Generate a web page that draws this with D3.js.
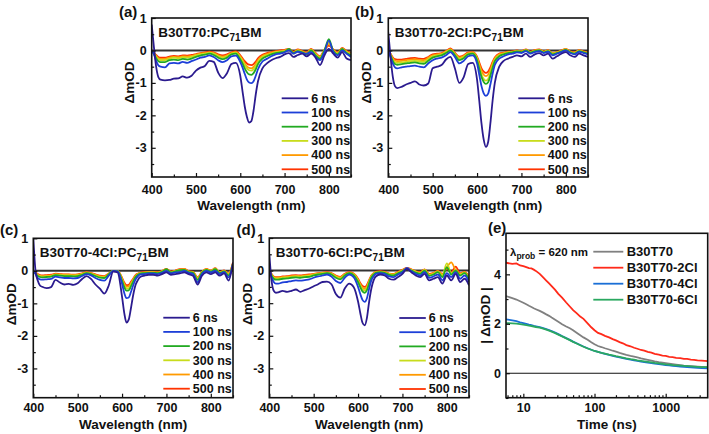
<!DOCTYPE html>
<html><head><meta charset="utf-8">
<script src="https://cdn.jsdelivr.net/npm/d3@7"></script>
<style>
body{margin:0;background:#fff}
text{font-family:"Liberation Sans",Arial,sans-serif;font-weight:bold;fill:#111}
</style>
</head><body>
<svg id="chart" width="709" height="434"></svg>
<script>
// ---------- DATA ----------
const wavelengths = [400,405,410,415,420,430,440,450,460,470,480,490,500,510,520,530,540,550,560,570,580,590,600,605,610,615,620,625,630,635,640,650,660,670,680,690,700,710,720,730,740,750,760,770,780,790,800,810,820,830,840,850];
const delayLabels = ["6 ns","100 ns","200 ns","300 ns","400 ns","500 ns"];
const delayColors = ["#2b1b8f","#1d3fd8","#22aa22","#c8dc1c","#ff9a00","#ff3300"];

const a6   = [0.80,0.10,-0.50,-0.82,-0.90,-0.92,-0.91,-0.87,-0.86,-0.80,-0.84,-0.78,-0.62,-0.53,-0.48,-0.32,-0.35,-0.68,-0.85,-0.70,-0.42,-0.38,-0.78,-1.25,-1.72,-2.05,-2.22,-2.18,-1.85,-1.35,-0.95,-0.55,-0.40,-0.30,-0.24,-0.20,-0.12,-0.08,-0.20,-0.14,-0.10,-0.18,-0.10,-0.22,-0.45,-0.15,0.05,-0.10,-0.22,-0.05,-0.25,-0.30];
const a100 = [0.00,-0.12,-0.32,-0.46,-0.50,-0.52,-0.40,-0.38,-0.40,-0.35,-0.38,-0.33,-0.28,-0.22,-0.20,-0.15,-0.20,-0.30,-0.36,-0.30,-0.18,-0.16,-0.36,-0.52,-0.72,-0.90,-0.99,-1.01,-0.95,-0.78,-0.58,-0.34,-0.26,-0.18,-0.12,-0.10,-0.06,0.00,-0.10,-0.04,-0.08,-0.10,-0.05,-0.20,-0.30,-0.05,0.30,-0.05,-0.15,0.00,-0.10,-0.20];
const a200 = [0.00,-0.10,-0.24,-0.33,-0.36,-0.36,-0.30,-0.28,-0.30,-0.26,-0.28,-0.25,-0.20,-0.16,-0.13,-0.10,-0.14,-0.22,-0.27,-0.22,-0.12,-0.10,-0.28,-0.40,-0.55,-0.67,-0.74,-0.75,-0.70,-0.58,-0.42,-0.25,-0.18,-0.12,-0.08,-0.06,-0.04,0.05,-0.08,-0.02,-0.06,-0.12,0.00,-0.15,-0.25,0.00,0.35,-0.02,-0.12,0.05,-0.08,-0.15];
const a300 = [0.00,-0.08,-0.20,-0.27,-0.30,-0.30,-0.25,-0.22,-0.24,-0.21,-0.22,-0.20,-0.15,-0.12,-0.10,-0.07,-0.10,-0.18,-0.22,-0.18,-0.10,-0.07,-0.22,-0.33,-0.45,-0.55,-0.61,-0.62,-0.58,-0.48,-0.35,-0.20,-0.14,-0.10,-0.05,-0.04,-0.02,0.03,-0.10,0.00,-0.05,-0.10,0.02,-0.12,-0.22,0.02,0.25,0.00,-0.10,0.05,-0.05,-0.12];
const a400 = [0.00,-0.07,-0.17,-0.24,-0.26,-0.26,-0.22,-0.20,-0.21,-0.18,-0.19,-0.17,-0.13,-0.10,-0.08,-0.06,-0.08,-0.15,-0.19,-0.15,-0.08,-0.05,-0.19,-0.29,-0.40,-0.49,-0.54,-0.55,-0.51,-0.42,-0.30,-0.17,-0.11,-0.07,-0.04,-0.02,0.00,0.04,-0.06,0.02,-0.03,-0.08,0.03,-0.10,-0.20,0.00,0.20,0.02,-0.08,0.06,-0.04,-0.10];
const a500 = [0.00,-0.06,-0.14,-0.20,-0.22,-0.22,-0.19,-0.17,-0.18,-0.15,-0.16,-0.14,-0.11,-0.08,-0.06,-0.04,-0.06,-0.12,-0.15,-0.12,-0.06,-0.03,-0.15,-0.24,-0.33,-0.40,-0.44,-0.45,-0.42,-0.34,-0.24,-0.13,-0.08,-0.05,-0.02,0.00,0.02,0.05,-0.04,0.03,-0.02,-0.06,0.05,-0.08,-0.18,0.02,0.15,0.03,-0.06,0.08,-0.02,-0.08];

const b6   = [0.55,-0.20,-0.80,-1.10,-1.16,-1.12,-1.05,-1.00,-0.95,-1.05,-1.08,-1.02,-0.55,-0.50,-0.45,-0.28,-0.20,-0.55,-1.00,-0.82,-0.42,-0.38,-0.90,-1.55,-2.25,-2.75,-2.97,-2.82,-2.25,-1.55,-1.00,-0.50,-0.32,-0.25,-0.20,-0.15,-0.18,-0.10,-0.20,-0.12,-0.08,-0.15,-0.10,-0.25,-0.18,-0.10,-0.05,-0.15,-0.20,-0.10,-0.15,-0.20];
const b100 = [0.00,-0.20,-0.40,-0.52,-0.55,-0.52,-0.50,-0.48,-0.47,-0.50,-0.52,-0.40,-0.30,-0.25,-0.22,-0.15,-0.05,-0.20,-0.40,-0.32,-0.18,-0.15,-0.40,-0.75,-1.10,-1.32,-1.40,-1.33,-1.05,-0.72,-0.45,-0.25,-0.18,-0.12,-0.10,-0.06,-0.08,-0.02,-0.10,-0.05,-0.02,-0.08,-0.04,-0.15,-0.10,-0.05,0.00,-0.08,-0.12,-0.04,-0.08,-0.12];
const b200 = [0.00,-0.15,-0.32,-0.42,-0.44,-0.42,-0.40,-0.38,-0.37,-0.40,-0.41,-0.32,-0.22,-0.18,-0.15,-0.08,0.00,-0.14,-0.30,-0.24,-0.12,-0.10,-0.30,-0.56,-0.82,-0.97,-1.03,-0.98,-0.78,-0.53,-0.33,-0.18,-0.12,-0.08,-0.06,-0.03,-0.05,0.00,-0.07,-0.02,0.00,-0.06,-0.02,-0.12,-0.08,-0.03,0.02,-0.06,-0.10,-0.02,-0.06,-0.10];
const b300 = [0.00,-0.13,-0.28,-0.37,-0.38,-0.37,-0.35,-0.33,-0.32,-0.34,-0.35,-0.27,-0.18,-0.15,-0.12,-0.05,0.02,-0.11,-0.26,-0.20,-0.10,-0.08,-0.26,-0.50,-0.74,-0.88,-0.93,-0.88,-0.70,-0.47,-0.29,-0.15,-0.10,-0.06,-0.05,-0.02,-0.04,0.01,-0.06,-0.01,0.01,-0.05,-0.01,-0.10,-0.07,-0.02,0.03,-0.05,-0.08,-0.01,-0.05,-0.09];
const b400 = [0.00,-0.11,-0.24,-0.31,-0.33,-0.32,-0.30,-0.28,-0.27,-0.29,-0.30,-0.23,-0.15,-0.12,-0.10,-0.03,0.04,-0.09,-0.22,-0.17,-0.08,-0.06,-0.22,-0.43,-0.63,-0.75,-0.79,-0.75,-0.60,-0.40,-0.25,-0.12,-0.08,-0.05,-0.04,-0.01,-0.03,0.02,-0.05,0.00,0.02,-0.04,0.00,-0.09,-0.06,-0.01,0.04,-0.04,-0.07,0.00,-0.04,-0.08];
const b500 = [0.00,-0.10,-0.21,-0.27,-0.28,-0.28,-0.26,-0.24,-0.23,-0.25,-0.26,-0.20,-0.12,-0.10,-0.08,-0.02,0.06,-0.07,-0.19,-0.15,-0.06,-0.05,-0.19,-0.37,-0.55,-0.65,-0.69,-0.65,-0.52,-0.35,-0.22,-0.10,-0.07,-0.04,-0.03,0.00,-0.02,0.03,-0.04,0.01,0.03,-0.03,0.01,-0.08,-0.05,0.00,0.05,-0.03,-0.06,0.01,-0.03,-0.07];

const c6   = [1.00,0.00,-0.30,-0.45,-0.49,-0.53,-0.50,-0.28,-0.36,-0.42,-0.40,-0.43,-0.38,-0.25,-0.16,-0.25,-0.42,-0.55,-0.70,-0.45,-0.02,-0.05,-0.80,-1.30,-1.59,-1.50,-1.15,-0.75,-0.45,-0.30,-0.20,-0.15,-0.12,-0.12,-0.15,-0.10,-0.05,-0.12,-0.10,-0.08,-0.05,-0.10,-0.15,-0.42,-0.15,-0.05,-0.10,-0.05,-0.15,-0.08,-0.30,0.25];
const c100 = [0.00,-0.10,-0.22,-0.26,-0.27,-0.26,-0.25,-0.18,-0.20,-0.22,-0.22,-0.23,-0.22,-0.16,-0.10,-0.14,-0.22,-0.28,-0.30,-0.15,0.00,-0.02,-0.40,-0.68,-0.84,-0.82,-0.65,-0.45,-0.28,-0.18,-0.12,-0.10,-0.08,-0.08,-0.10,-0.06,0.00,-0.08,-0.05,-0.04,0.00,-0.06,-0.10,-0.35,-0.10,0.00,-0.05,0.00,-0.10,-0.04,-0.20,0.20];
const c200 = [0.00,-0.08,-0.16,-0.19,-0.20,-0.19,-0.18,-0.13,-0.15,-0.16,-0.16,-0.17,-0.16,-0.12,-0.07,-0.10,-0.16,-0.21,-0.22,-0.11,0.00,-0.01,-0.30,-0.50,-0.61,-0.60,-0.48,-0.33,-0.20,-0.13,-0.09,-0.07,-0.06,-0.06,-0.07,-0.03,0.05,-0.05,-0.02,0.02,0.03,-0.04,-0.06,-0.28,-0.06,0.03,-0.02,0.05,-0.07,-0.02,-0.14,0.22];
const c300 = [0.00,-0.07,-0.14,-0.17,-0.18,-0.17,-0.16,-0.12,-0.13,-0.14,-0.14,-0.15,-0.14,-0.10,-0.06,-0.09,-0.14,-0.19,-0.20,-0.10,0.00,-0.01,-0.27,-0.45,-0.55,-0.54,-0.43,-0.30,-0.18,-0.12,-0.08,-0.06,-0.05,-0.05,-0.06,-0.02,0.04,-0.04,-0.01,0.03,0.04,-0.03,-0.05,-0.25,-0.05,0.04,-0.01,0.06,-0.06,-0.01,-0.12,0.22];
const c400 = [0.00,-0.06,-0.12,-0.15,-0.16,-0.15,-0.14,-0.10,-0.11,-0.12,-0.12,-0.13,-0.12,-0.09,-0.05,-0.08,-0.12,-0.17,-0.18,-0.09,0.00,0.00,-0.24,-0.40,-0.49,-0.48,-0.38,-0.27,-0.16,-0.10,-0.07,-0.05,-0.04,-0.04,-0.05,-0.01,0.05,-0.03,0.00,0.04,0.05,-0.02,-0.04,-0.22,-0.04,0.05,0.00,0.07,-0.05,0.00,-0.10,0.24];
const c500 = [0.00,-0.05,-0.10,-0.13,-0.14,-0.13,-0.12,-0.09,-0.10,-0.11,-0.11,-0.12,-0.11,-0.08,-0.04,-0.07,-0.11,-0.15,-0.16,-0.08,0.00,0.00,-0.21,-0.36,-0.44,-0.43,-0.34,-0.24,-0.14,-0.09,-0.06,-0.04,-0.03,-0.03,-0.04,0.00,0.06,-0.02,0.01,0.05,0.06,-0.01,-0.03,-0.20,-0.03,0.06,0.01,0.08,-0.04,0.01,-0.08,0.26];

const d6   = [0.50,-0.30,-0.62,-0.68,-0.67,-0.62,-0.65,-0.62,-0.58,-0.65,-0.60,-0.55,-0.48,-0.42,-0.35,-0.34,-0.42,-0.72,-0.83,-0.55,-0.40,-0.50,-0.95,-1.30,-1.60,-1.68,-1.45,-0.95,-0.55,-0.30,-0.18,-0.12,-0.15,-0.25,-0.28,-0.20,-0.10,0.05,-0.05,-0.15,-0.20,-0.10,-0.30,-0.25,-0.20,-0.40,-0.15,-0.30,-0.10,-0.35,-0.25,-0.45];
const d100 = [0.00,-0.20,-0.35,-0.40,-0.40,-0.36,-0.35,-0.32,-0.30,-0.31,-0.29,-0.27,-0.22,-0.18,-0.15,-0.12,-0.18,-0.32,-0.38,-0.22,-0.12,-0.20,-0.50,-0.72,-0.90,-0.96,-0.85,-0.55,-0.30,-0.18,-0.10,-0.08,-0.10,-0.18,-0.20,-0.12,-0.05,0.08,-0.02,-0.10,-0.15,-0.05,-0.22,-0.18,-0.12,-0.30,-0.08,-0.20,-0.05,-0.25,-0.15,-0.35];
const d200 = [0.00,-0.15,-0.25,-0.28,-0.28,-0.25,-0.24,-0.22,-0.21,-0.22,-0.20,-0.19,-0.15,-0.12,-0.10,-0.08,-0.12,-0.22,-0.27,-0.15,-0.08,-0.14,-0.35,-0.51,-0.64,-0.68,-0.60,-0.39,-0.21,-0.12,-0.07,-0.05,-0.07,-0.13,-0.15,-0.08,-0.02,0.05,0.00,-0.06,-0.10,0.00,-0.16,-0.12,-0.05,-0.20,0.10,-0.12,0.00,-0.15,-0.08,-0.28];
const d300 = [0.00,-0.13,-0.22,-0.25,-0.25,-0.22,-0.21,-0.19,-0.18,-0.19,-0.17,-0.16,-0.13,-0.10,-0.08,-0.07,-0.10,-0.19,-0.24,-0.13,-0.07,-0.12,-0.31,-0.46,-0.57,-0.61,-0.54,-0.35,-0.19,-0.10,-0.06,-0.04,-0.06,-0.11,-0.13,-0.06,0.00,0.06,0.02,-0.04,-0.08,0.02,-0.14,-0.10,-0.03,-0.15,0.22,-0.08,0.02,-0.12,-0.06,-0.25];
const d400 = [0.00,-0.12,-0.20,-0.22,-0.22,-0.20,-0.19,-0.17,-0.16,-0.17,-0.15,-0.14,-0.11,-0.09,-0.07,-0.06,-0.09,-0.17,-0.21,-0.11,-0.06,-0.10,-0.28,-0.42,-0.52,-0.56,-0.49,-0.32,-0.17,-0.09,-0.05,-0.03,-0.05,-0.10,-0.11,-0.05,0.01,0.07,0.03,-0.03,-0.06,0.03,-0.12,-0.08,-0.02,-0.12,0.10,0.25,0.00,-0.10,-0.05,-0.22];
const d500 = [0.00,-0.10,-0.18,-0.20,-0.20,-0.18,-0.17,-0.15,-0.14,-0.15,-0.13,-0.12,-0.10,-0.08,-0.06,-0.05,-0.08,-0.15,-0.19,-0.10,-0.05,-0.09,-0.25,-0.38,-0.47,-0.50,-0.44,-0.29,-0.15,-0.08,-0.04,-0.02,-0.04,-0.09,-0.10,-0.04,0.02,0.08,0.04,-0.02,-0.05,0.04,-0.10,-0.07,-0.01,-0.10,0.05,-0.05,0.12,-0.08,-0.04,-0.18];

const specYTicks = [1,0,-1,-2,-3];
const specXTicks = [400,500,600,700,800];

// panel (e) decay kinetics
const times = [5.7,7,8,9,10,11,12,13,14,15,17,19,21,23,25,28,31,35,40,45,50,56,63,70,80,90,100,112,125,140,160,180,200,225,250,280,320,360,400,450,500,560,630,700,800,900,1000,1120,1250,1400,1600,1800,2000,2250,2500,2800,3200,3900];
const kin0 = [3.12,3.04,2.98,2.91,2.85,2.79,2.73,2.68,2.63,2.59,2.52,2.45,2.38,2.32,2.25,2.16,2.08,1.98,1.89,1.82,1.74,1.64,1.54,1.45,1.35,1.25,1.17,1.10,1.06,1.01,0.96,0.91,0.87,0.82,0.78,0.74,0.70,0.67,0.64,0.60,0.57,0.54,0.51,0.48,0.45,0.43,0.41,0.39,0.37,0.35,0.33,0.31,0.30,0.29,0.28,0.27,0.26,0.25];
const kin2 = [4.47,4.42,4.44,4.36,4.33,4.29,4.25,4.24,4.19,4.14,4.02,3.88,3.75,3.63,3.52,3.37,3.21,3.06,2.86,2.70,2.55,2.43,2.29,2.20,2.02,1.86,1.74,1.63,1.58,1.51,1.45,1.38,1.33,1.26,1.21,1.14,1.09,1.03,0.99,0.94,0.91,0.86,0.83,0.78,0.75,0.71,0.70,0.66,0.65,0.62,0.61,0.58,0.58,0.55,0.54,0.52,0.51,0.49];
const kin4 = [2.18,2.14,2.11,2.06,2.03,2.00,1.97,1.95,1.92,1.90,1.86,1.82,1.78,1.74,1.70,1.64,1.58,1.50,1.42,1.35,1.28,1.21,1.14,1.08,1.01,0.95,0.90,0.86,0.82,0.78,0.74,0.70,0.67,0.64,0.61,0.58,0.55,0.52,0.50,0.47,0.45,0.43,0.41,0.39,0.37,0.35,0.33,0.32,0.30,0.29,0.27,0.26,0.25,0.24,0.23,0.22,0.21,0.20];
const kin6 = [2.03,2.02,2.01,1.99,1.97,1.95,1.93,1.91,1.89,1.87,1.84,1.80,1.76,1.72,1.68,1.62,1.56,1.49,1.41,1.34,1.27,1.20,1.13,1.07,1.00,0.95,0.90,0.86,0.82,0.79,0.75,0.72,0.69,0.66,0.63,0.60,0.57,0.55,0.52,0.50,0.48,0.46,0.44,0.42,0.40,0.38,0.36,0.35,0.33,0.32,0.31,0.30,0.29,0.28,0.27,0.26,0.25,0.25];
const kinLabels = ["B30T70","B30T70-2Cl","B30T70-4Cl","B30T70-6Cl"];
const kinColors = ["#808080","#ff2a1a","#1a6fd6","#2aa860"];
const kinYTicks = [0,2,4];
const kinXTicks = [10,100,1000];

// ---------- DRAW ----------
const svg = d3.select("#chart");
let clipId = 0;

function addTicks(g, x, y, xt, xMinor, yt, yMinor, h, xPad, yPad) {
  const ax = g.append("g").attr("transform", `translate(0,${h})`)
    .call(d3.axisBottom(x).tickValues(xt).tickSizeInner(-4).tickSizeOuter(0).tickPadding(xPad).tickFormat(d3.format("d")));
  const axm = g.append("g").attr("transform", `translate(0,${h})`)
    .call(d3.axisBottom(x).tickValues(xMinor).tickSizeInner(-2.5).tickSizeOuter(0).tickFormat(""));
  const ay = g.append("g")
    .call(d3.axisLeft(y).tickValues(yt).tickSizeInner(-4).tickSizeOuter(0).tickPadding(yPad).tickFormat(d3.format("d")));
  const aym = g.append("g")
    .call(d3.axisLeft(y).tickValues(yMinor).tickSizeInner(-2.5).tickSizeOuter(0).tickFormat(""));
  [ax, axm, ay, aym].forEach(a => {
    a.select(".domain").remove();
    a.selectAll("line").attr("stroke", "#111").attr("stroke-width", 1.2);
    a.selectAll("text").style("font-size", "12.5px").style("font-family", "Liberation Sans, Arial, sans-serif").style("font-weight", "bold").attr("fill", "#111");
  });
  ay.selectAll("text").text(d => d < 0 ? "-" + Math.abs(d) : d);
}

function spectrumPanel(o) {
  const w = o.right - o.left, h = o.bottom - o.top;
  const g = svg.append("g").attr("transform", `translate(${o.left},${o.top})`);
  const x = d3.scaleLinear().domain([400, 850]).range([0, w]);
  const y = d3.scaleLinear().domain([-3.9, 1]).range([h, 0]);
  const id = "clip" + (clipId++);
  g.append("clipPath").attr("id", id).append("rect").attr("width", w).attr("height", h);
  const plot = g.append("g").attr("clip-path", `url(#${id})`);
  plot.append("line").attr("x1", 0).attr("x2", w).attr("y1", y(0)).attr("y2", y(0))
    .attr("stroke", "#333").attr("stroke-width", 2);
  const line = d3.line().x((d, i) => x(wavelengths[i])).y(d => y(d)).curve(d3.curveMonotoneX);
  o.series.slice().reverse().forEach((s, k) => {
    const i = o.series.length - 1 - k;
    plot.append("path").attr("d", line(s)).attr("fill", "none")
      .attr("stroke", delayColors[i]).attr("stroke-width", 1.8).attr("stroke-linejoin", "round");
  });
  addTicks(g, x, y, specXTicks, [450,550,650,750,850], specYTicks, [0.5,-0.5,-1.5,-2.5,-3.5], h, o.xPad, 5);
  g.append("rect").attr("width", w).attr("height", h).attr("fill", "none").attr("stroke", "#111").attr("stroke-width", 1.6);
  // inset title with subscript
  const t = g.append("text").attr("x", 6.5).attr("y", 19).style("font-size", "13.5px");
  t.append("tspan").text(o.name + ":PC");
  t.append("tspan").attr("dy", 4).style("font-size", "10px").text("71");
  t.append("tspan").attr("dy", -4).text("BM");
  // legend
  delayLabels.forEach((lab, i) => {
    const ly = o.legTop + i * 14.2;
    g.append("line").attr("x1", 130).attr("x2", 156.5).attr("y1", ly).attr("y2", ly)
      .attr("stroke", delayColors[i]).attr("stroke-width", 1.8);
    g.append("text").attr("x", 159.5).attr("y", ly).attr("dy", "0.35em").style("font-size", "12.5px").text(lab);
  });
  // axis titles
  g.append("text").attr("transform", `translate(-22,${o.yTitleY}) rotate(-90)`).attr("text-anchor", "middle")
    .attr("dy", "0.35em").style("font-size", "13.5px").text("ΔmOD");
  g.append("text").attr("x", w / 2).attr("y", h + o.xTitleOff).attr("text-anchor", "middle").attr("dy", "0.35em")
    .style("font-size", "13.5px").text("Wavelength (nm)");
  svg.append("text").attr("x", o.labX).attr("y", o.labY).attr("dy", "0.35em").style("font-size", "15px").text(o.lab);
}

spectrumPanel({left:151.7,right:351,top:18,bottom:177,series:[a6,a100,a200,a300,a400,a500],name:"B30T70",lab:"(a)",labX:119,labY:12,legTop:80.3,xPad:8,xTitleOff:28,yTitleY:64.5});
spectrumPanel({left:388.3,right:588,top:18,bottom:177,series:[b6,b100,b200,b300,b400,b500],name:"B30T70-2Cl",lab:"(b)",labX:355,labY:12,legTop:80.3,xPad:8,xTitleOff:28,yTitleY:64.5});
spectrumPanel({left:33.3,right:233,top:238.3,bottom:397.7,series:[c6,c100,c200,c300,c400,c500],name:"B30T70-4Cl",lab:"(c)",labX:0,labY:230,legTop:79.4,xPad:5,xTitleOff:26.5,yTitleY:66});
spectrumPanel({left:269.3,right:469,top:238,bottom:397.7,series:[d6,d100,d200,d300,d400,d500],name:"B30T70-6Cl",lab:"(d)",labX:236.5,labY:230,legTop:80,xPad:5,xTitleOff:26.5,yTitleY:66});

// panel (e)
(function(){
  const o = {left:506,right:707.7,top:233.3,bottom:397.7};
  const w = o.right - o.left, h = o.bottom - o.top;
  const g = svg.append("g").attr("transform", `translate(${o.left},${o.top})`);
  const x = d3.scaleLog().domain([5.71, 3890]).range([0, w]);
  const y = d3.scaleLinear().domain([-0.99, 5.66]).range([h, 0]);
  const id = "clip" + (clipId++);
  g.append("clipPath").attr("id", id).append("rect").attr("width", w).attr("height", h);
  const plot = g.append("g").attr("clip-path", `url(#${id})`);
  plot.append("line").attr("x1", 0).attr("x2", w).attr("y1", y(0)).attr("y2", y(0)).attr("stroke", "#111").attr("stroke-width", 1.2);
  const line = d3.line().x((d, i) => x(times[i])).y(d => y(d));
  [kin0, kin2, kin4, kin6].forEach((s, i) => {
    plot.append("path").attr("d", line(s)).attr("fill", "none").attr("stroke", kinColors[i]).attr("stroke-width", 1.8);
  });
  const minors = [];
  [1, 10, 100, 1000].forEach(dec => { for (let m = 2; m <= 9; m++) { const v = dec * m; if (v > 5.71 && v < 3890) minors.push(v); } });
  addTicks(g, x, y, kinXTicks, minors, kinYTicks, [-1,1,3,5], h, 5, 5);
  g.append("rect").attr("width", w).attr("height", h).attr("fill", "none").attr("stroke", "#111").attr("stroke-width", 1.6);
  // legend
  const lt = g.append("text").attr("x", 4).attr("y", 18.4).attr("dy", "0.35em").style("font-size", "11.5px");
  lt.append("tspan").text("λ");
  lt.append("tspan").attr("dy", 3).style("font-size", "8.5px").text("prob");
  lt.append("tspan").attr("dy", -3).text(" = 620 nm");
  kinLabels.forEach((lab, i) => {
    const ly = 18.4 + i * 16;
    g.append("line").attr("x1", 87.3).attr("x2", 117.3).attr("y1", ly).attr("y2", ly).attr("stroke", kinColors[i]).attr("stroke-width", 1.8);
    g.append("text").attr("x", 120.7).attr("y", ly).attr("dy", "0.35em").style("font-size", "13px").text(lab);
  });
  g.append("text").attr("transform", `translate(-21,${h/2}) rotate(-90)`).attr("text-anchor", "middle")
    .attr("dy", "0.35em").style("font-size", "13.5px").text("| ΔmOD |");
  g.append("text").attr("x", w / 2).attr("y", 26.5 + h).attr("dy", "0.35em").attr("text-anchor", "middle")
    .style("font-size", "13.5px").text("Time (ns)");
  svg.append("text").attr("x", 488).attr("y", 228).attr("dy", "0.35em").style("font-size", "15px").text("(e)");
})();
</script>
</body></html>
